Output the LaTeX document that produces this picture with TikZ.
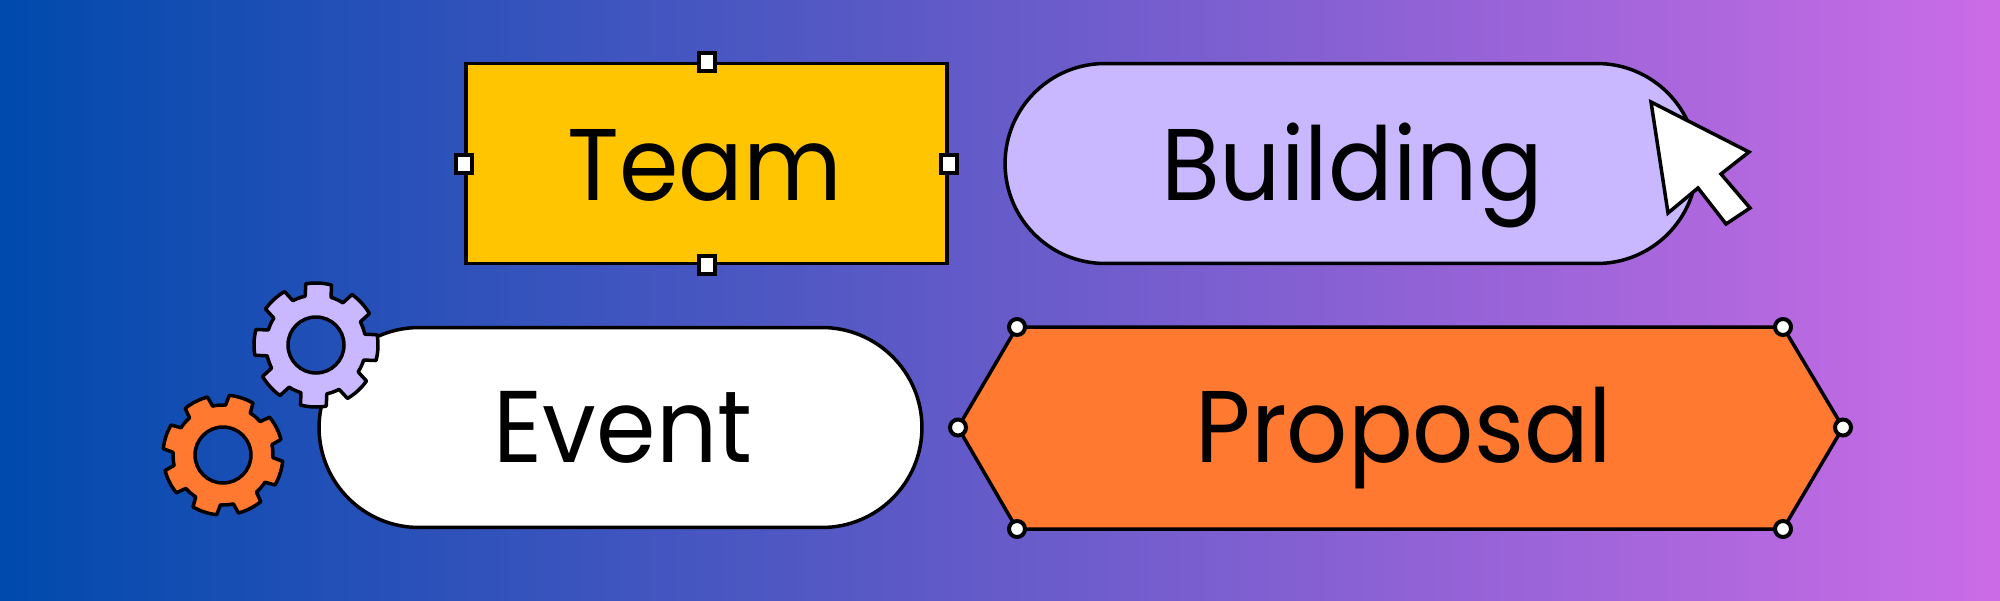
\documentclass[tikz,border=0pt]{standalone}
\usepackage{fontspec}
\setmainfont[FakeStretch=0.94]{Poppins}
\usetikzlibrary{shapes.misc,calc}

\definecolor{bgleft}{HTML}{004AAD}
\definecolor{bgright}{HTML}{CB6CE6}
\definecolor{lilac}{HTML}{C9B8FF}
\definecolor{tangerine}{HTML}{FF7A30}
\definecolor{amber}{HTML}{FFC500}

\tikzset{
	outline/.style={draw=black, line width=0.07cm},
	label/.style={font=\fontsize{58}{60}\selectfont, text=black, anchor=base},
	squarehandle/.style={draw=black, line width=0.08cm, fill=white, rectangle, inner sep=0pt, minimum width=0.32cm, minimum height=0.36cm},
	roundhandle/.style={draw=black, line width=0.08cm, fill=white, circle, inner sep=0pt, minimum size=0.32cm},
	pillbox/.style={outline, rectangle, rounded corners=2cm, minimum height=4cm}
}

% one gear: centre, first tooth angle, tip radius, colour
\newcommand{\cog}[4]{
	\draw[outline, fill=#4, even odd rule, line join=round]
		(#1) ++(#2-15:50)
		\foreach \k in {0,...,7}{
			-- ($(#1)+(#2+45*\k-12:#3)$)
			arc[start angle=#2+45*\k-12, end angle=#2+45*\k+12, radius=#3]
			-- ($(#1)+(#2+45*\k+15:50)$)
			arc[start angle=#2+45*\k+15, end angle=#2+45*\k+30, radius=50]
		} -- cycle
		(#1) circle[radius=28];
}

\begin{document}
\begin{tikzpicture}[x=0.02cm, y=0.02cm]
	\useasboundingbox (0,0) rectangle (2000,600);
	\shade[left color=bgleft, right color=bgright] (0,0) rectangle (2000,600);

	% top row
	\node[outline, fill=amber, rectangle, minimum width=9.62cm, minimum height=4cm] (team) at (706.5,436.5) {};
	\node[label] (teamtext) at (705,400) {Team};
	\foreach \side in {north,south,east,west}
		\node[squarehandle] (team\side) at (team.\side) {};

	\node[pillbox, fill=lilac, minimum width=13.84cm] (building) at (1351,436.5) {};
	\node[label] (buildingtext) at (1352,400) {Building};

	% bottom row
	\node[pillbox, fill=white, minimum width=12.06cm] (event) at (620.5,172.5) {};
	\node[label] (eventtext) at (623,138) {Event};

	\coordinate (pl) at (958,172.5);
	\coordinate (ptl) at (1017,273);
	\coordinate (ptr) at (1783,273);
	\coordinate (pr) at (1843,172.5);
	\coordinate (pbr) at (1783,71);
	\coordinate (pbl) at (1017,71);
	\draw[outline, fill=tangerine] (pl) -- (ptl) -- (ptr) -- (pr) -- (pbr) -- (pbl) -- cycle;
	\node[label] (proposaltext) at (1404,138) {Proposal};
	\foreach \corner in {pl,ptl,ptr,pr,pbr,pbl}
		\node[roundhandle] at (\corner) {};

	% gears
	\cog{316,255}{-2.5}{62}{lilac}
	\cog{223,145}{27}{60}{tangerine}

	% pointer
	\draw[outline, fill=white, line join=miter]
		(1651,498) -- (1749,448) -- (1721,426) -- (1750,392) -- (1726,376) -- (1698,412) -- (1668,387) -- cycle;
\end{tikzpicture}
\end{document}
